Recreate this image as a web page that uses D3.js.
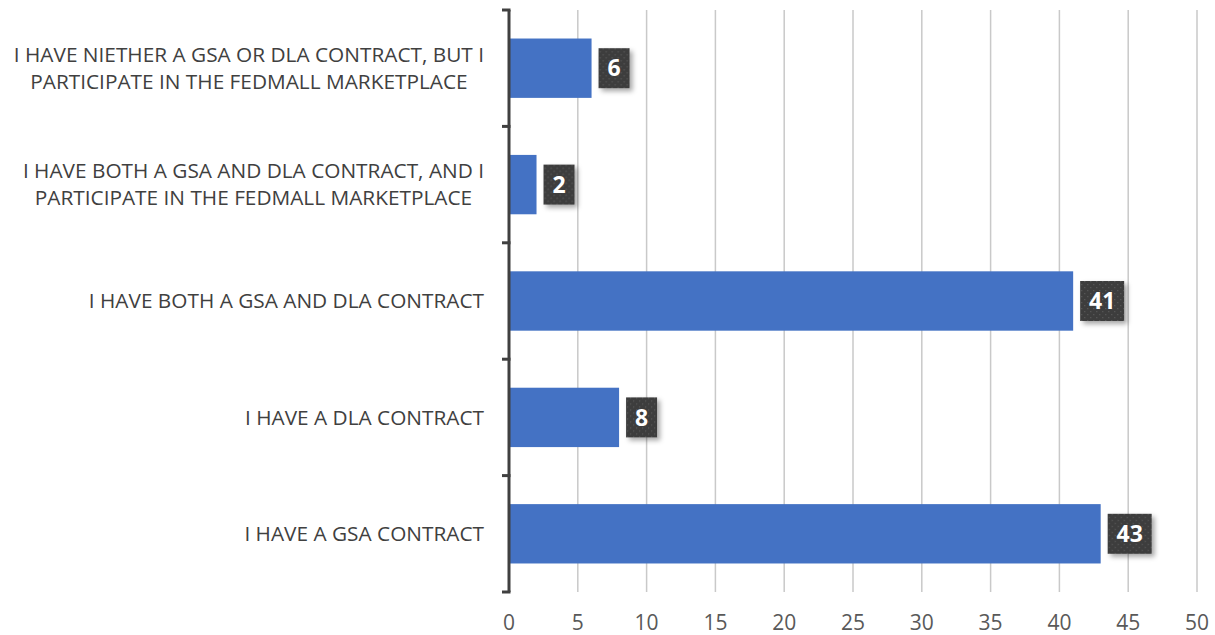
<!DOCTYPE html>
<html>
<head>
<meta charset="utf-8">
<script src="https://cdn.jsdelivr.net/npm/d3@7"></script>
<style>
  body { margin: 0; background: #fff; }
  svg { display: block; }
</style>
</head>
<body>
<svg class="chart"></svg>
<script>
// data, top to bottom
const categories = [
  ['I HAVE NIETHER A GSA OR DLA CONTRACT, BUT I', 'PARTICIPATE IN THE FEDMALL MARKETPLACE'],
  ['I HAVE BOTH A GSA AND DLA CONTRACT, AND I', 'PARTICIPATE IN THE FEDMALL MARKETPLACE'],
  ['I HAVE BOTH A GSA AND DLA CONTRACT'],
  ['I HAVE A DLA CONTRACT'],
  ['I HAVE A GSA CONTRACT']
];
const values = [6, 2, 41, 8, 43];
const xTicks = [0, 5, 10, 15, 20, 25, 30, 35, 40, 45, 50];

const W = 1215, H = 635;
const margin = {top: 10, right: 18, bottom: 43, left: 509};
const width = W - margin.left - margin.right,
      height = H - margin.top - margin.bottom;

const svg = d3.select('.chart').attr('width', W).attr('height', H);

const defs = svg.append('defs');
const pat = defs.append('pattern')
    .attr('id', 'dots')
    .attr('width', 6).attr('height', 6)
    .attr('patternUnits', 'userSpaceOnUse');
pat.append('rect').attr('width', 6).attr('height', 6).attr('fill', '#3d3d3d');
pat.append('rect').attr('x', 1).attr('y', 1).attr('width', 1.2).attr('height', 1.2).attr('fill', '#5a5a5a');
pat.append('rect').attr('x', 4).attr('y', 4).attr('width', 1.2).attr('height', 1.2).attr('fill', '#5a5a5a');

const shadow = defs.append('filter').attr('id', 'shadow')
    .attr('x', '-30%').attr('y', '-30%').attr('width', '170%').attr('height', '170%');
shadow.append('feDropShadow')
    .attr('dx', 3).attr('dy', 3).attr('stdDeviation', 2.5)
    .attr('flood-color', '#000').attr('flood-opacity', 0.35);

const g = svg.append('g').attr('transform', `translate(${margin.left},${margin.top})`);

const x = d3.scaleLinear().domain([0, 50]).range([0, width]);
const y = d3.scaleBand().domain(d3.range(values.length)).range([0, height]).paddingInner(0.49).paddingOuter(0.245);

// gridlines
g.append('g')
  .selectAll('line')
  .data(xTicks.slice(1))
  .join('line')
    .attr('x1', d => x(d)).attr('x2', d => x(d))
    .attr('y1', 0).attr('y2', height)
    .attr('stroke', '#c9c9c9').attr('stroke-width', 1.5);

// x tick labels
g.append('g')
  .selectAll('text')
  .data(xTicks)
  .join('text')
    .attr('x', d => x(d))
    .attr('y', height + 38)
    .attr('text-anchor', 'middle')
    .attr('font-family', 'Open Sans, sans-serif')
    .attr('font-size', 21)
    .attr('fill', '#595959')
    .text(d => d);

// bars
g.selectAll('.bar')
  .data(values)
  .join('rect')
    .attr('class', 'bar')
    .attr('x', 0)
    .attr('y', (d, i) => y(i))
    .attr('width', d => x(d))
    .attr('height', y.bandwidth())
    .attr('fill', '#4472c4');

// y axis line with bracket ticks at band edges
const band = height / values.length;
g.append('line')
    .attr('x1', 0).attr('x2', 0).attr('y1', 0).attr('y2', height)
    .attr('stroke', '#404040').attr('stroke-width', 3);
g.append('g')
  .selectAll('line')
  .data(d3.range(values.length + 1))
  .join('line')
    .attr('x1', -7).attr('x2', 1.5)
    .attr('y1', d => d * band).attr('y2', d => d * band)
    .attr('stroke', '#404040').attr('stroke-width', 3);

// category labels: block right-aligned, lines centred within block
const lab = g.append('g')
  .selectAll('text')
  .data(categories)
  .join('text')
    .attr('font-family', 'Open Sans, sans-serif')
    .attr('font-size', 20.8)
    .attr('fill', '#404040')
    .attr('text-anchor', 'middle')
    .attr('transform', (d, i) => `translate(-25,${y(i) + y.bandwidth() / 2})`);
lab.each(function(d) {
  const t = d3.select(this);
  const lh = 27;
  const y0 = -(d.length - 1) * lh / 2;
  const spans = d.map((line, k) =>
    t.append('tspan').attr('y', y0 + k * lh).attr('dy', '0.35em').text(line));
  const maxW = d3.max(spans, s => s.node().getComputedTextLength());
  spans.forEach(s => s.attr('x', -maxW / 2));
});

// data labels
const dl = g.selectAll('.dl')
  .data(values)
  .join('g')
    .attr('class', 'dl')
    .attr('transform', (d, i) => `translate(${x(d) + 7},${y(i) + y.bandwidth() / 2})`);
dl.each(function(d) {
  const s = d3.select(this);
  const t = String(d);
  const w = t.length === 1 ? 31 : 44;
  s.append('rect')
    .attr('x', 0).attr('y', -20).attr('width', w).attr('height', 40)
    .attr('fill', 'url(#dots)')
    .attr('filter', 'url(#shadow)');
  s.append('text')
    .attr('x', w / 2).attr('y', 0).attr('dy', '0.36em')
    .attr('text-anchor', 'middle')
    .attr('font-family', 'Open Sans, sans-serif')
    .attr('font-weight', 'bold')
    .attr('font-size', 23)
    .attr('fill', '#fff')
    .text(t);
});
</script>
</body>
</html>
